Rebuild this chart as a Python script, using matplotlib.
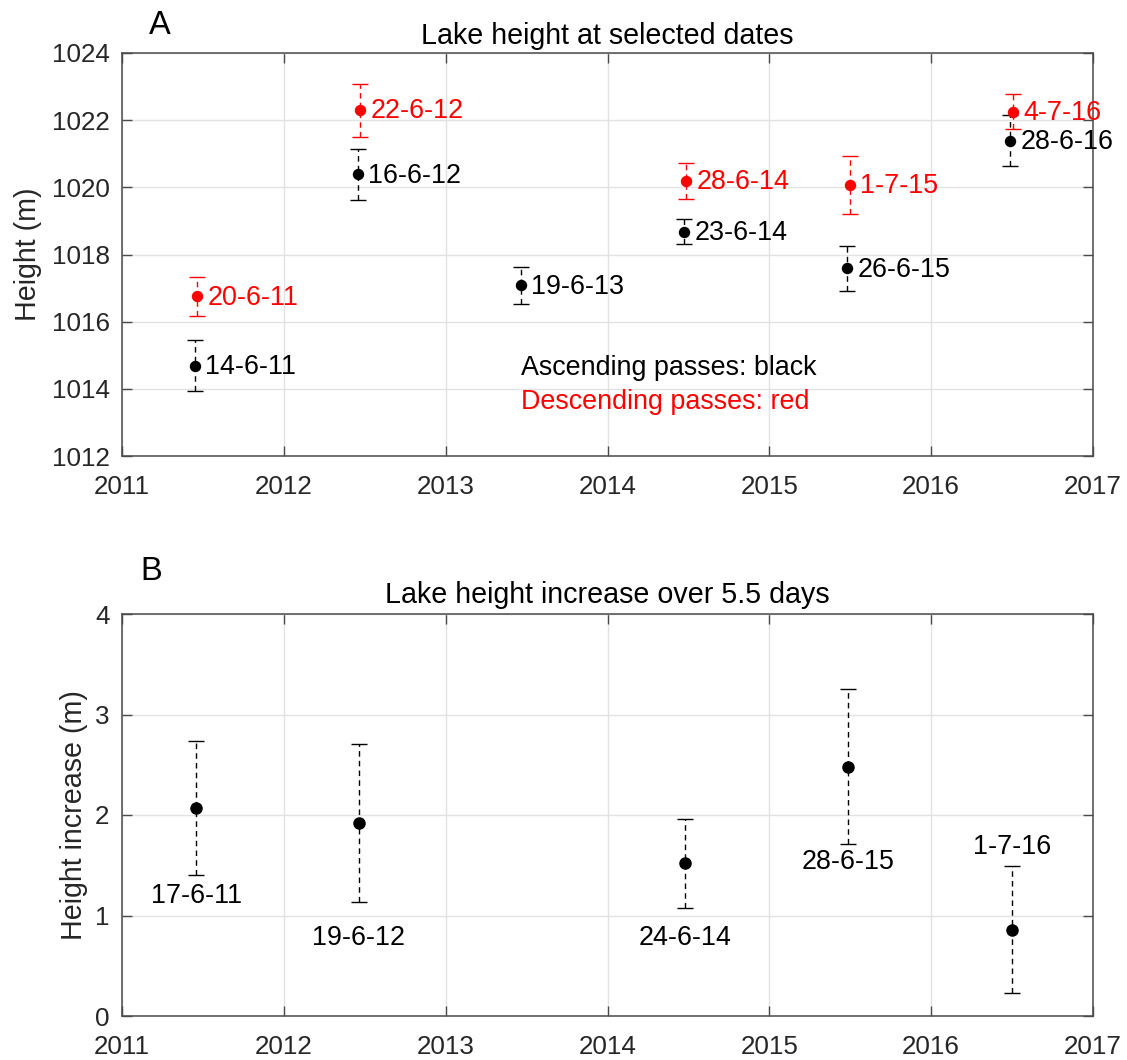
import matplotlib
matplotlib.use("Agg")
import matplotlib.pyplot as plt

plt.rcParams['font.family'] = ['Liberation Sans', 'DejaVu Sans']

# ---- Panel A data (decimal year, height m, +/- error m)
asc_labels = ['14-6-11', '16-6-12', '19-6-13', '23-6-14', '26-6-15', '28-6-16']
asc_x = [2011.451, 2012.456, 2013.463, 2014.474, 2015.482, 2016.489]
asc_h = [1014.69, 1020.39, 1017.08, 1018.68, 1017.59, 1021.39]
asc_err = [0.75, 0.76, 0.56, 0.37, 0.67, 0.75]

desc_labels = ['20-6-11', '22-6-12', '28-6-14', '1-7-15', '4-7-16']
desc_x = [2011.466, 2012.473, 2014.488, 2015.496, 2016.506]
desc_h = [1016.75, 1022.30, 1020.19, 1020.07, 1022.25]
desc_err = [0.58, 0.79, 0.54, 0.86, 0.52]

# ---- Panel B data
inc_labels = ['17-6-11', '19-6-12', '24-6-14', '28-6-15', '1-7-16']
inc_x = [2011.458, 2012.464, 2014.477, 2015.488, 2016.500]
inc_h = [2.07, 1.92, 1.52, 2.48, 0.86]
inc_err = [0.665, 0.79, 0.445, 0.77, 0.635]
inc_label_y = [1.19, 0.78, 0.78, 1.535, 1.685]

year_ticks = [2011, 2012, 2013, 2014, 2015, 2016, 2017]
a_yticks = [1012, 1014, 1016, 1018, 1020, 1022, 1024]
b_yticks = [0, 1, 2, 3, 4]

W, H = 1127, 1060
fig = plt.figure(figsize=(W / 100, H / 100), dpi=100)
ax1 = fig.add_axes([122 / W, 1 - 456 / H, 971 / W, 403 / H])
ax2 = fig.add_axes([122 / W, 1 - 1016 / H, 971 / W, 402 / H])

FS = 18.7      # tick labels
FA = 19.4      # annotations
FT = 20.6      # titles / axis labels
RED = '#ff0000'
SPINE = '#4a4a4a'


def style(ax):
    ax.set_xlim(2011, 2017)
    ax.set_xticks(year_ticks)
    ax.set_xticklabels([str(y) for y in year_ticks])
    ax.grid(True, color='#e2e2e2', lw=1.0)
    ax.set_axisbelow(True)
    for s in ax.spines.values():
        s.set_color(SPINE)
        s.set_linewidth(1.1)
    ax.tick_params(direction='in', length=7, width=1.0, top=True, right=True,
                   color=SPINE, labelcolor='#262626', labelsize=FS)
    ax.tick_params(axis='x', pad=14)
    ax.tick_params(axis='y', pad=9)


def ebar(ax, x, y, e, color, ms):
    eb = ax.errorbar(x, y, yerr=e, fmt='o', color=color, ms=ms, capsize=6,
                     capthick=1.0, elinewidth=1.0, mec=color, mfc=color, zorder=3)
    eb[2][0].set_linestyle((0, (4, 3)))
    return eb


style(ax1)
ax1.set_ylim(1012, 1024)
ax1.set_yticks(a_yticks)
ebar(ax1, asc_x, asc_h, asc_err, 'black', 7.2)
ebar(ax1, desc_x, desc_h, desc_err, RED, 7.2)
for x, y, t in zip(asc_x, asc_h, asc_labels):
    ax1.annotate(t, (x, y), xytext=(7.5, -1), textcoords='offset points',
                 ha='left', va='center', fontsize=FA, color='black')
for x, y, t in zip(desc_x, desc_h, desc_labels):
    ax1.annotate(t, (x, y), xytext=(7.5, -1), textcoords='offset points',
                 ha='left', va='center', fontsize=FA, color=RED)
ax1.text(2013.467, 1014.63, 'Ascending passes: black', fontsize=FA,
         ha='left', va='center', color='black')
ax1.text(2013.467, 1013.62, 'Descending passes: red', fontsize=FA,
         ha='left', va='center', color=RED)
ax1.text(0.5, 1.043, 'Lake height at selected dates', transform=ax1.transAxes,
         ha='center', va='center', fontsize=FT, color='black')

style(ax2)
ax2.set_ylim(0, 4)
ax2.set_yticks(b_yticks)
ebar(ax2, inc_x, inc_h, inc_err, 'black', 8.0)
for x, y, t in zip(inc_x, inc_label_y, inc_labels):
    ax2.text(x, y, t, ha='center', va='center', fontsize=FA, color='black')
ax2.text(0.5, 1.047, 'Lake height increase over 5.5 days', transform=ax2.transAxes,
         ha='center', va='center', fontsize=FT, color='black')

# y labels and panel letters
fig.text(28 / W, 1 - 254 / H, 'Height (m)', rotation=90, ha='center', va='center',
         fontsize=FT, color='#262626')
fig.text(74 / W, 1 - 815 / H, 'Height increase (m)', rotation=90, ha='center',
         va='center', fontsize=FT, color='#262626')
fig.text(160 / W, 1 - 25 / H, 'A', ha='center', va='center', fontsize=23.5)
fig.text(151 / W, 1 - 572 / H, 'B', ha='center', va='center', fontsize=23.5)

fig.savefig('out.png', dpi=100)
